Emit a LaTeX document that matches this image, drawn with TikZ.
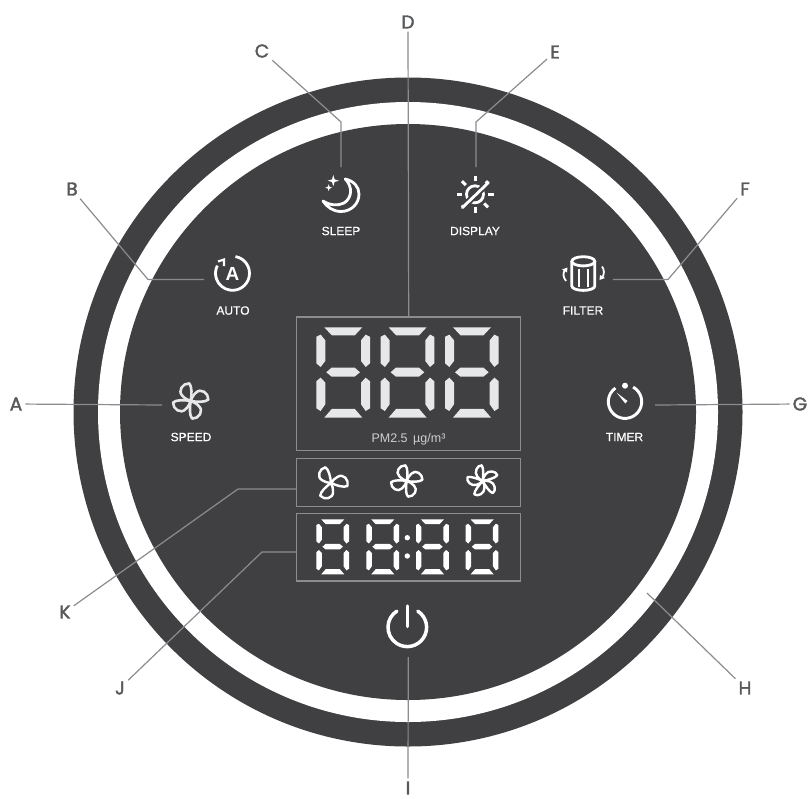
\documentclass[tikz,border=0pt]{standalone}
\usepackage{xcolor}
\usepackage{fontspec}
\setmainfont{Liberation Sans}
\newfontfamily\letterfont[FakeBold=2]{Poppins}
\newfontfamily\labelfont[FakeBold=0.4]{Liberation Sans}
\usetikzlibrary{positioning}

\definecolor{colPanel}{HTML}{404042}
\definecolor{colLine}{HTML}{8C8C8E}
\definecolor{colLetter}{HTML}{58595B}
\definecolor{colSeg}{HTML}{E6E7E8}

\tikzset{
  letter/.style={font=\letterfont\fontsize{18.5}{18.5}\selectfont, text=colLetter, inner sep=3pt},
  keylabel/.style={font=\labelfont\fontsize{12}{12}\selectfont, text=white, inner sep=0pt},
  leader/.style={colLine, line width=1.2pt},
  lcdbox/.style={draw=colLine, line width=1.5pt, minimum width=224pt, inner sep=0pt},
  icon/.style={white, line width=2.8pt},
  pics/digit/.style={code={
    \fill (8,0) -- (46,0) -- (38.5,8) -- (15.5,8) -- cycle;
    \fill (0,9.5) -- (4.3,7.3) -- (9,13) -- (9,33.7) -- (4.3,39.7) -- (0,36) -- cycle;
    \fill (53.7,9.5) -- (49.4,7.3) -- (44.7,13) -- (44.7,33.7) -- (49.4,39.7) -- (53.7,36) -- cycle;
    \fill (10,45) -- (15.3,40.3) -- (38.4,40.3) -- (43.7,45) -- (38.4,49.3) -- (15.3,49.3) -- cycle;
    \fill (0,54) -- (4.3,50.3) -- (9,55.3) -- (9,77) -- (4.3,83.7) -- (0,81) -- cycle;
    \fill (53.7,54) -- (49.4,50.3) -- (44.7,55.3) -- (44.7,77) -- (49.4,83.7) -- (53.7,81) -- cycle;
    \fill (15.5,81.6) -- (38.5,81.6) -- (46,90.3) -- (8,90.3) -- cycle;
  }},
  pics/fan/.style 2 args={code={
    \foreach \a in {#1} {
      \draw[rotate=\a, xscale=#2, line join=round] (0,0) .. controls (.06,-.35) and (.08,-.8) .. (-.08,-.98)
        .. controls (-.45,-1) and (-.75,-.55) .. (-.45,-.28)
        .. controls (-.35,-.15) and (-.15,-.05) .. (0,0);
    }
  }},
}

\begin{document}
\begin{tikzpicture}[x=1pt, y=-1pt]
\useasboundingbox (0,0) rectangle (810,798);

% Anelli
\fill[colPanel] (408,412) circle (334.5);
\fill[white] (408,412) circle (310);
\fill[colPanel] (408,412) circle (288);

% Riquadri
\node[lcdbox, minimum height=133.3pt] (lcdPm) at (408.7,383.7) {};
\node[lcdbox, minimum height=48pt] (lcdFan) at (408.7,482.7) {};
\node[lcdbox, minimum height=67.3pt] (lcdTime) at (408.7,547.3) {};

% Cifre grandi
\foreach \x in {316.3,380.6,445} {
  \pic[fill=colSeg] at (\x,327.3) {digit};
}
\node[font=\fontsize{12.5}{12.5}\selectfont, text=colSeg!85!colPanel, inner sep=0pt] (lblPm) at (408.5,439) {PM2.5\, µg/m³};

% Cifre piccole
\foreach \x in {316.3,366.3,416,465.7} {
  \pic[fill=white, scale=0.61] at (\x,519.3) {digit};
}
\fill[white] (407.3,537.7) circle (2.7);
\fill[white] (407.3,556) circle (2.7);

% Ventole
\pic[white, line width=2.4pt, scale=17] at (331,483) {fan={15,135,255}{1}};
\pic[white, line width=2.4pt, scale=16] at (406.7,481) {fan={0,90,180,270}{1}};
\pic[white, line width=2.4pt, scale=16] at (482.7,481) {fan={0,72,144,216,288}{.75}};
\pic[colSeg, line width=2.6pt, scale=18] at (190.7,401) {fan={0,90,180,270}{1}};

% Auto
\draw[icon] (232.5,273.3) ++(-80:17) arc[start angle=-80, end angle=207, radius=17];
\draw[icon, line width=2.2pt, line join=miter] (218,261.5) -- (224,259.5) -- (224,266);
\node[font=\bfseries\fontsize{19}{19}\selectfont, text=white, inner sep=0pt] (icoAuto) at (232.5,273.5) {A};

% Luna
\draw[icon, line join=round] (345.3,179) .. controls (354,181) and (359,187) .. (359,194)
  .. controls (359,204) and (351,211.5) .. (341,211.5)
  .. controls (333,211.5) and (327,207) .. (323,201)
  .. controls (330,205.5) and (338,206) .. (344,203)
  .. controls (352,198) and (353,187) .. (345.3,179) -- cycle;
\fill[white] (333.3,175) -- (334.6,179.4) -- (339,180.7) -- (334.6,182) -- (333.3,186.4) -- (332,182) -- (327.6,180.7) -- (332,179.4) -- cycle;
\fill[white] (328.7,184.2) -- (329.6,186.8) -- (332.2,187.7) -- (329.6,188.6) -- (328.7,191.2) -- (327.8,188.6) -- (325.2,187.7) -- (327.8,186.8) -- cycle;

% Display
\draw[icon] (475,194.3) circle (8.5);
\foreach \a in {0,45,...,315} {
  \draw[icon, line width=3pt] (475,194.3) ++(\a:13) -- ++(\a:5.5);
}
\draw[colPanel, line width=6.5pt] (464,206) -- (486.5,184.5);
\draw[icon, line cap=round] (462.3,207.7) -- (488.3,182.7);

% Filtro
\draw[icon] (583.3,261.3) ellipse (11.5 and 4.6);
\draw[icon] (571.8,261.3) -- (571.8,286) arc[start angle=180, end angle=0, x radius=11.5, y radius=4.4] -- (594.8,261.3);
\draw[icon, line width=2.4pt] (578.8,269) -- (578.8,287);
\draw[icon, line width=2.4pt] (587.8,269) -- (587.8,287);
\draw[icon, line width=1.8pt] (564.8,270) .. controls (562.8,273.5) and (563,277) .. (566,281);
\fill[white] (562,269.5) -- (567.5,267.5) -- (567,272.5) -- cycle;
\draw[icon, line width=1.8pt] (602,266.5) .. controls (604.5,270) and (604.5,274) .. (602.2,277.5);
\fill[white] (605,278) -- (599.5,280) -- (600,275) -- cycle;

% Timer
\draw[icon, line width=2.9pt] (625,401.7) ++(-61:16.7) arc[start angle=-61, end angle=235, radius=16.7];
\fill[white] (625,385.7) circle (3);
\fill[white] (616.5,392.5) -- (627.5,401) -- (625.3,403.5) -- cycle;

% Accensione
\draw[icon, line width=3.5pt, line cap=round] (407.3,627.3) ++(-57:19.3) arc[start angle=-57, end angle=237, radius=19.3];
\draw[icon, line width=3.5pt, line cap=round] (407.3,606) -- (407.3,626.5);

% Nomi dei tasti
\node[keylabel] (lblSleep) at (341,231) {SLEEP};
\node[keylabel] (lblDisplay) at (475,231) {DISPLAY};
\node[keylabel] (lblAuto) at (233,310.5) {AUTO};
\node[keylabel] (lblFilter) at (583,310.5) {FILTER};
\node[keylabel] (lblSpeed) at (191,437) {SPEED};
\node[keylabel] (lblTimer) at (624.5,437) {TIMER};

% Lettere
\node[letter] (letA) at (16,404) {A};
\node[letter] (letB) at (72,189) {B};
\node[letter] (letC) at (262,51) {C};
\node[letter] (letD) at (408,22) {D};
\node[letter] (letE) at (555,52) {E};
\node[letter] (letF) at (745,189) {F};
\node[letter] (letG) at (800,404) {G};
\node[letter] (letH) at (745,688) {H};
\node[letter] (letI) at (408,788) {I};
\node[letter] (letJ) at (120,688) {J};
\node[letter] (letK) at (65,612) {K};

% Punti di arrivo
\coordinate (endA) at (162,405);
\coordinate (kneeB) at (148,279.5);
\coordinate (endB) at (204,279.5);
\coordinate (kneeC) at (341,122);
\coordinate (endC) at (341,167);
\coordinate (kneeE) at (476,122);
\coordinate (endE) at (476,167);
\coordinate (kneeF) at (668,279.5);
\coordinate (endF) at (613,279.5);
\coordinate (endG) at (655,405);
\coordinate (endH) at (647,593);
\coordinate (endI) at (408.3,657);
\coordinate (kneeJ) at (262,552);
\coordinate (endJ) at (296,552);
\coordinate (kneeK) at (238,489);
\coordinate (endK) at (296,489);

% Linee
\draw[leader] (letA) -- (endA);
\draw[leader] (letB) -- (kneeB) -- (endB);
\draw[leader] (letC) -- (kneeC) -- (endC);
\draw[leader] (letD.south) -- (lcdPm.north);
\draw[leader] (letE) -- (kneeE) -- (endE);
\draw[leader] (letF) -- (kneeF) -- (endF);
\draw[leader] (letG) -- (endG);
\draw[leader] (letH) -- (endH);
\draw[leader] (letI.north) -- (endI);
\draw[leader] (letJ) -- (kneeJ) -- (endJ);
\draw[leader] (letK) -- (kneeK) -- (endK);

\end{tikzpicture}
\end{document}
